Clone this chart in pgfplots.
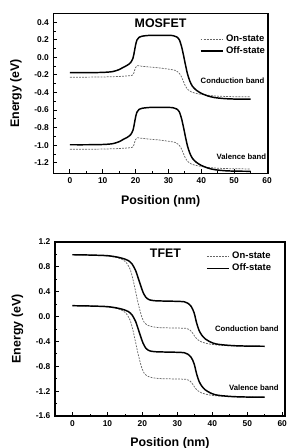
\documentclass[border=0pt]{standalone}
\usepackage{pgfplots}
\pgfplotsset{compat=1.18}
\usepackage{fontspec}
\setmainfont{Liberation Sans}
\begin{document}
\begin{tikzpicture}
\useasboundingbox (0pt,0pt) rectangle (216.75pt,336pt);
\pgfplotsset{
  myax/.style={
    scale only axis,
    anchor=south west,
    axis line style={line width=0.9pt},
    tick style={black, line width=0.6pt},
    tick align=inside,
    major tick length=3pt,
    minor tick length=1.6pt,
    xtick pos=bottom, ytick pos=left,
    /pgf/number format/assume math mode=true,
    ticklabel style={font=\fontsize{6.3}{7.5}\selectfont\bfseries},
    label style={font=\fontsize{9.3}{11}\selectfont\bfseries},
    xlabel={Position (nm)},
    ylabel={Energy (eV)},
    xmin=-5,
    xtick={0,10,...,60},
    minor x tick num=1,
    yticklabel style={/pgf/number format/.cd,fixed,fixed zerofill,precision=1},
    legend cell align=left,
    legend style={draw=none, fill=none, font=\fontsize{7.1}{8.5}\selectfont\bfseries,
      row sep=-1.8pt, inner sep=1pt},
    legend image code/.code={\draw[##1] (0cm,0cm) -- (0.58cm,0cm);},
  },
  offst/.style={black, line width=1.1pt, smooth, tension=0.45},
  onst/.style={black!60, line width=0.55pt, dash pattern=on 1.4pt off 0.9pt, smooth, tension=0.45},
}
% ---------- MOSFET ----------
\begin{axis}[myax,
  at={(40.1pt,206.0pt)}, width=160.9pt, height=120pt,
  xmax=60.3, ymin=-1.32, ymax=0.5,
  ytick={-1.2,-1.0,...,0.41}, minor y tick num=1,
  xlabel style={yshift=-1.5pt}, ylabel style={yshift=2.5pt},
  legend style={at={(rel axis cs:0.675,0.89)}, anchor=north west},
]
\addplot[onst] coordinates {(0,-0.227)(5,-0.226)(10,-0.224)(15,-0.218)(18,-0.21)(19.2,-0.2)(19.6,-0.16)(20.0,-0.115)(20.6,-0.095)(21.5,-0.1)(24,-0.11)(27,-0.12)(30,-0.135)(32,-0.148)(33,-0.17)(33.8,-0.21)(34.5,-0.27)(35.2,-0.33)(36,-0.37)(37,-0.395)(39,-0.415)(42,-0.432)(45,-0.442)(50,-0.448)(55,-0.45)};
\addlegendentry{On-state}
\addplot[offst] coordinates {(0,-0.175)(5,-0.175)(10,-0.172)(13,-0.163)(15,-0.14)(16.2,-0.115)(17.5,-0.09)(18.5,-0.06)(19.2,-0.01)(19.6,0.06)(20.0,0.14)(20.4,0.195)(21.0,0.225)(22,0.24)(23.5,0.247)(25,0.25)(30,0.25)(31.5,0.245)(32.5,0.232)(33.3,0.2)(34,0.12)(34.6,0.02)(35.2,-0.09)(35.8,-0.19)(36.5,-0.27)(37.3,-0.33)(38.5,-0.375)(40,-0.41)(42,-0.44)(44,-0.458)(47,-0.47)(50,-0.475)(55,-0.477)};
\addlegendentry{Off-state}
\addplot[onst, forget plot] coordinates {(0,-1.047)(5,-1.046)(10,-1.044)(15,-1.038)(18,-1.03)(19.2,-1.02)(19.6,-0.98)(20.0,-0.935)(20.6,-0.915)(21.5,-0.92)(24,-0.93)(27,-0.94)(30,-0.955)(32,-0.968)(33,-0.99)(33.8,-1.03)(34.5,-1.09)(35.2,-1.15)(36,-1.19)(37,-1.215)(39,-1.235)(42,-1.252)(45,-1.262)(50,-1.268)(55,-1.27)};
\addplot[offst, forget plot] coordinates {(0,-0.995)(5,-0.995)(10,-0.992)(13,-0.983)(15,-0.96)(16.2,-0.935)(17.5,-0.91)(18.5,-0.88)(19.2,-0.83)(19.6,-0.76)(20.0,-0.68)(20.4,-0.625)(21.0,-0.595)(22,-0.58)(23.5,-0.573)(25,-0.57)(30,-0.57)(31.5,-0.575)(32.5,-0.588)(33.3,-0.62)(34,-0.70)(34.6,-0.80)(35.2,-0.91)(35.8,-1.01)(36.5,-1.09)(37.3,-1.15)(38.5,-1.195)(40,-1.23)(42,-1.26)(44,-1.278)(47,-1.29)(50,-1.295)(55,-1.297)};
\node[font=\fontsize{9.3}{11}\selectfont\bfseries] at (axis cs:27.6,0.39) {MOSFET};
\node[font=\fontsize{5.8}{7}\selectfont\bfseries] at (axis cs:49.5,-0.262) {Conduction band};
\node[font=\fontsize{5.8}{7}\selectfont\bfseries] at (axis cs:52.2,-1.132) {Valence band};
\end{axis}
% ---------- TFET ----------
\begin{axis}[myax,
  at={(41.25pt,24.0pt)}, width=172.5pt, height=130.5pt,
  xmax=60.8, ymin=-1.6, ymax=1.2,
  ytick={-1.6,-1.2,...,1.21}, minor y tick num=1,
  xlabel style={yshift=-1pt}, ylabel style={yshift=2.5pt},
  legend style={at={(rel axis cs:0.65,0.965)}, anchor=north west},
]
\addplot[onst] coordinates {(0,0.995)(5,0.99)(10,0.975)(13,0.945)(14.5,0.91)(15.5,0.86)(16.5,0.76)(17.3,0.6)(18,0.42)(18.6,0.26)(19.2,0.12)(19.8,0.0)(20.5,-0.09)(21.5,-0.14)(23,-0.165)(25,-0.178)(30,-0.185)(32.5,-0.19)(33.5,-0.21)(34.3,-0.26)(35,-0.32)(35.8,-0.37)(37,-0.41)(39,-0.44)(42,-0.46)(46,-0.472)(55,-0.478)};
\addlegendentry{On-state}
\addplot[offst] coordinates {(0,0.995)(5,0.99)(10,0.98)(13,0.955)(15,0.925)(16,0.9)(17,0.85)(18,0.75)(18.8,0.62)(19.5,0.5)(20.2,0.39)(21,0.31)(22,0.27)(23.5,0.255)(26,0.25)(30,0.245)(32,0.238)(33,0.215)(34,0.16)(34.8,0.06)(35.5,-0.1)(36.2,-0.22)(37,-0.3)(38,-0.36)(39.5,-0.41)(41,-0.44)(43,-0.455)(46,-0.468)(50,-0.475)(55,-0.478)};
\addlegendentry{Off-state}
\addplot[onst, forget plot] coordinates {(0,0.175)(5,0.17)(10,0.155)(13,0.125)(14.5,0.09)(15.5,0.04)(16.5,-0.06)(17.3,-0.22)(18,-0.40)(18.6,-0.56)(19.2,-0.70)(19.8,-0.82)(20.5,-0.91)(21.5,-0.96)(23,-0.985)(25,-0.998)(30,-1.005)(32.5,-1.01)(33.5,-1.03)(34.3,-1.08)(35,-1.14)(35.8,-1.19)(37,-1.23)(39,-1.26)(42,-1.28)(46,-1.292)(55,-1.298)};
\addplot[offst, forget plot] coordinates {(0,0.175)(5,0.17)(10,0.16)(13,0.135)(15,0.105)(16,0.08)(17,0.03)(18,-0.07)(18.8,-0.2)(19.5,-0.32)(20.2,-0.43)(21,-0.51)(22,-0.55)(23.5,-0.565)(26,-0.57)(30,-0.575)(32,-0.582)(33,-0.605)(34,-0.66)(34.8,-0.76)(35.5,-0.92)(36.2,-1.04)(37,-1.12)(38,-1.18)(39.5,-1.23)(41,-1.26)(43,-1.275)(46,-1.288)(50,-1.295)(55,-1.298)};
\node[font=\fontsize{9.3}{11}\selectfont\bfseries] at (axis cs:26.6,1.02) {TFET};
\node[font=\fontsize{5.8}{7}\selectfont\bfseries] at (axis cs:49.9,-0.198) {Conduction band};
\node[font=\fontsize{5.8}{7}\selectfont\bfseries] at (axis cs:51.9,-1.139) {Valence band};
\end{axis}
\end{tikzpicture}
\end{document}
